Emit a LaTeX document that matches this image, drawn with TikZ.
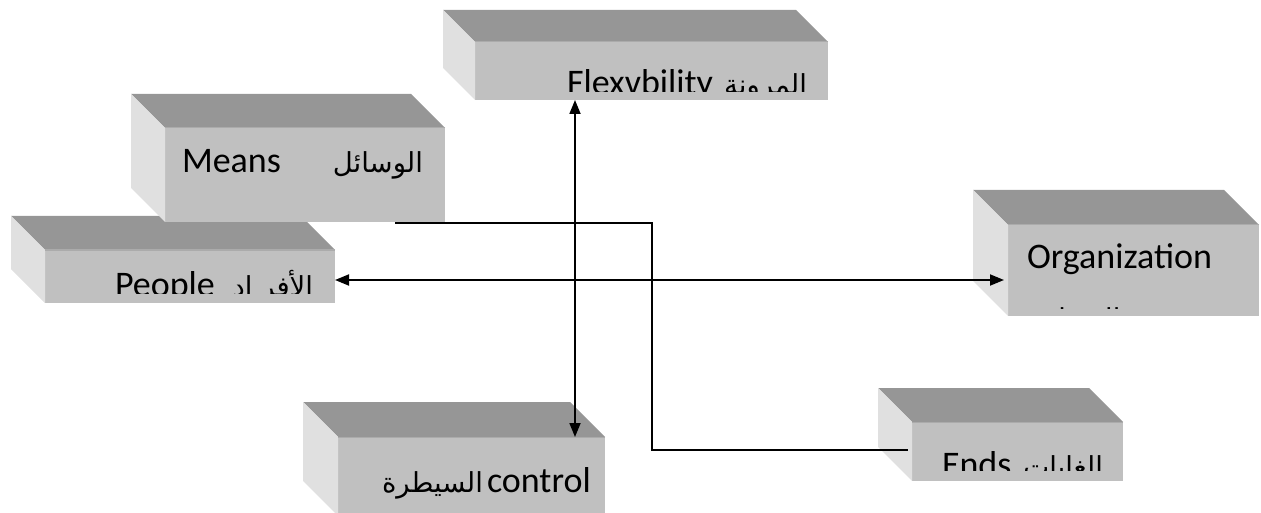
\documentclass[tikz,border=0pt]{standalone}
\usepackage{fontspec}
\setmainfont{Carlito}
\newfontfamily\arabicfont[Script=Arabic]{DejaVu Sans}
\TeXXeTstate=1
\usetikzlibrary{arrows.meta}

\definecolor{faceTop}{HTML}{969696}
\definecolor{faceFront}{HTML}{C0C0C0}
\definecolor{faceSide}{HTML}{E0E0E0}
\definecolor{faceEdge}{HTML}{ABABAB}

% A bevelled block: #1 name, front face from (#2,#3) to (#4,#5), depth #6
\newcommand\solidblock[6]{%
  \node[frontface, anchor=north west,
        minimum width={#4-#2}, minimum height={#5-#3}] (#1) at (#2,#3) {};
  \fill[faceTop] (#1.north west) -- ++(-#6,-#6)
     -- ([shift={(-#6,-#6)}]#1.north east) -- (#1.north east) -- cycle;
  \fill[faceSide] (#1.north west) -- ++(-#6,-#6)
     -- ([shift={(-#6,-#6)}]#1.south west) -- (#1.south west) -- cycle;
  \draw[faceEdge, line width=1pt] (#1.north west) -- (#1.north east);
}

\tikzset{
  frontface/.style={fill=faceFront, draw=none, inner sep=0pt, outer sep=0pt},
  lbl/.style={inner sep=0pt, outer sep=0pt, font=\fontsize{36}{43}\selectfont},
  albl/.style={inner sep=0pt, outer sep=0pt, font=\arabicfont\fontsize{27.5}{40}\selectfont},
  conn/.style={draw=black, line width=1.8pt},
  tips/.style={{Triangle[length=14pt, width=11pt]}-{Triangle[length=14pt, width=11pt]}}
}

\begin{document}
\begin{tikzpicture}[x=1pt, y=-1pt]
\useasboundingbox (0,0) rectangle (1261,513);

% blocks (people first, means lies over it)
\solidblock{flex}{475}{42}{828}{100}{32}
\solidblock{people}{45}{250}{335}{303}{34}
\solidblock{means}{165}{128}{445}{222}{34}
\solidblock{org}{1008}{225}{1259}{316}{35}
\solidblock{control}{338}{437}{605}{516}{35}
\solidblock{ends}{912}{422}{1123}{481}{34}

% labels, cut off at the inner margin of each block
\begin{scope}
  \clip (flex.north west) rectangle ([yshift=8pt]flex.south east);
  \node[lbl, anchor=base west] (flexEn) at (567,95) {Flexvbility};
  \node[albl, anchor=base east] (flexAr) at (807,95) {\beginR المرونة\endR};
\end{scope}
\begin{scope}
  \clip (means.north west) rectangle ([yshift=8pt]means.south east);
  \node[lbl, anchor=base west] (meansEn) at (182,173) {Means};
  \node[albl, anchor=base east] (meansAr) at (423,173) {\beginR الوسائل\endR};
\end{scope}
\begin{scope}
  \clip (people.north west) rectangle ([yshift=10pt]people.south east);
  \node[lbl, anchor=base west] (peopleEn) at (115,296) {People};
  \node[albl, anchor=base east] (peopleAr) at (313,296) {\beginR الأفر اد\endR};
\end{scope}
\begin{scope}
  \clip (org.north west) rectangle ([yshift=8pt]org.south east);
  \node[lbl, anchor=base west] (orgEn) at (1027,268) {Organization};
  \node[albl, anchor=base west] (orgAr) at (1027,328) {\beginR المنظمة\endR};
\end{scope}
\begin{scope}
  \clip (control.north west) rectangle ([yshift=8pt]control.south east);
  \node[lbl, anchor=base west] (controlEn) at (487,492) {control};
  \node[albl, anchor=base east] (controlAr) at (483,492) {\beginR السيطرة\endR};
\end{scope}
\begin{scope}
  \clip (ends.north west) rectangle ([yshift=11pt]ends.south east);
  \node[lbl, anchor=base west] (endsEn) at (942,476) {Ends};
  \node[albl, anchor=base east] (endsAr) at (1103,476) {\beginR الغايات\endR};
\end{scope}

% connectors
\coordinate (rowY) at (0,280);
\coordinate (colX) at (575,0);
\coordinate (startX) at (395,0);
\coordinate (bendX) at (652,0);
\coordinate (endsY) at (0,450);

\draw[conn, tips] (people.east |- rowY) -- ([xshift=-4pt]org.west |- rowY);
\draw[conn, tips] (flex.south -| colX) -- (control.north -| colX);
\draw[conn] ([yshift=-1pt]means.south -| startX) -| (bendX |- endsY)
   -- ([xshift=-4pt]ends.west |- endsY);
\end{tikzpicture}
\end{document}
